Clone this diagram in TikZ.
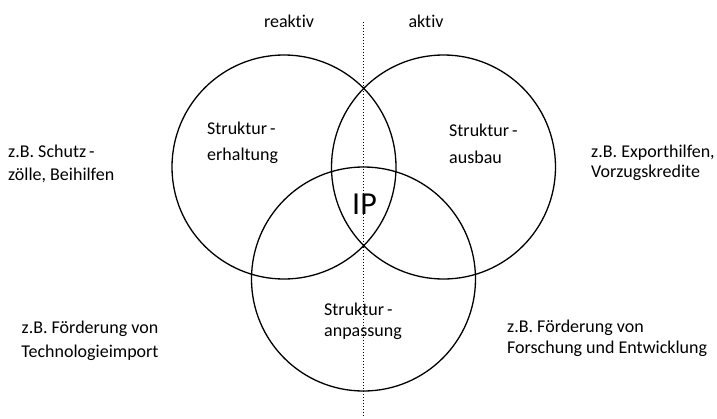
\documentclass[tikz,border=0pt]{standalone}
\usepackage{fontspec}
\setmainfont{Carlito}[Ligatures=NoCommon]
\usepackage{tikz}

\tikzset{
  ring/.style={line width=1.3pt},
  lbl/.style={inner sep=0pt,font=\fontsize{18}{23}\selectfont},
}

\begin{document}
\begin{tikzpicture}[x=1pt,y=-1pt]
\useasboundingbox (0,0) rectangle (717,418);

% Centres of the three fields
\coordinate (cL) at (284,167);
\coordinate (cR) at (443.5,167);
\coordinate (cB) at (363.5,279);

% Circles
\draw[ring] (cL) circle[radius=112pt];
\draw[ring] (cR) circle[radius=112pt];
\draw[ring] (cB) circle[radius=112pt];

% Divider reaktiv / aktiv
\coordinate (divtop) at (363.5,22);
\coordinate (divbot) at (363.5,417);
\draw[line width=0.9pt,dash pattern=on 1pt off 2pt] (divtop) -- (divbot);

% Headings
\node[lbl] (reaktiv) at (289,21) {reaktiv};
\node[lbl] (aktiv) at (426,21) {aktiv};

% Field labels
\node[lbl,anchor=west,align=left,font=\fontsize{18}{26}\selectfont] (erhalt) at (207,143) {Struktur\,-\\erhaltung};
\node[lbl,anchor=west,align=left,font=\fontsize{18}{27}\selectfont] (ausbau) at (449,144) {Struktur\,-\\ausbau};
\node[lbl,anchor=west,align=left,font=\fontsize{18}{21}\selectfont] (anpass) at (324,321) {Struktur\,-\\anpassung};
\node[inner sep=0pt,font=\fontsize{32}{32}\selectfont] (ip) at (364.5,204) {IP};

% Examples
\node[lbl,anchor=west,align=left] (schutz) at (8,164) {z.B. Schutz\,-\\zölle, Beihilfen};
\node[lbl,anchor=west,align=left,font=\fontsize{18}{20}\selectfont] (export) at (591,163) {z.B. Exporthilfen,\\Vorzugskredite};
\node[lbl,align=center,font=\fontsize{18}{24}\selectfont] (techimp) at (90,341) {z.B. Förderung von\\Technologieimport};
\node[lbl,anchor=west,align=left,font=\fontsize{18}{21}\selectfont] (fue) at (507,338) {z.B. Förderung von\\Forschung und Entwicklung};
\end{tikzpicture}
\end{document}
